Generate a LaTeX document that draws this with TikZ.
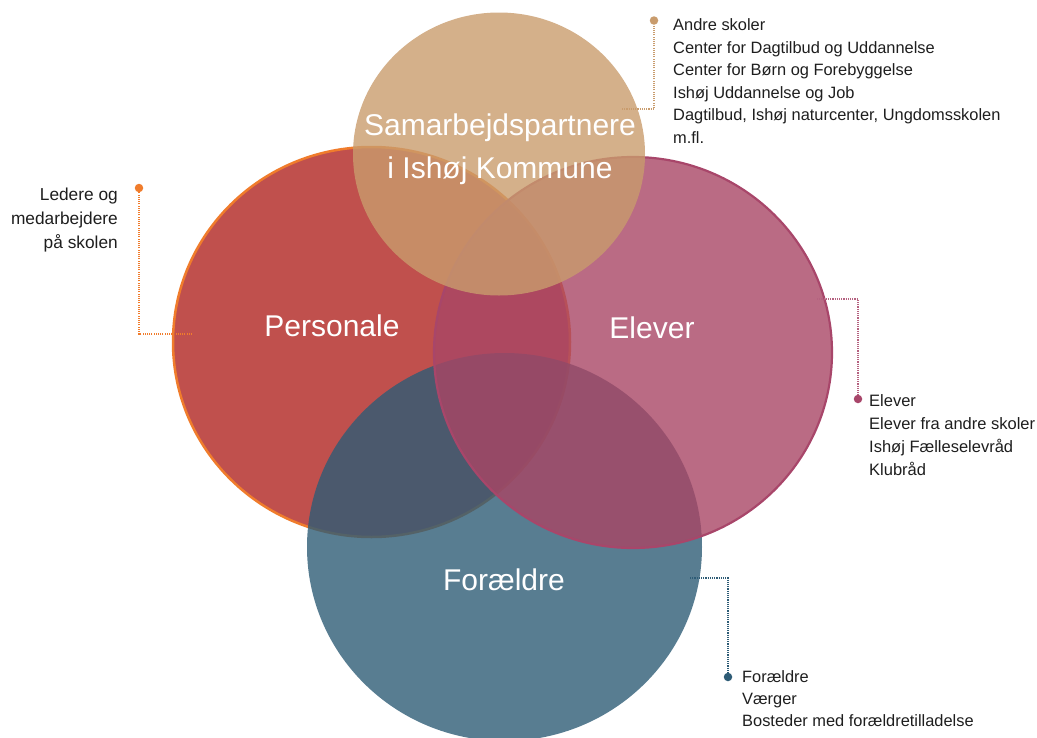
\documentclass[tikz,border=0pt]{standalone}
\usepackage{fontspec}
\setmainfont{Liberation Sans}
\usetikzlibrary{shapes.geometric}
\definecolor{pRed}{RGB}{192,80,77}
\definecolor{pOrange}{RGB}{240,124,44}
\definecolor{eFill}{RGB}{169,70,101}
\definecolor{eLine}{RGB}{168,70,106}
\definecolor{fFill}{RGB}{46,92,118}
\definecolor{sFill}{RGB}{201,156,109}
\definecolor{txt}{RGB}{30,30,30}
\begin{document}
\begin{tikzpicture}[x=1pt,y=-1pt,
  bubble/.style={ellipse, inner sep=0pt, outer sep=0pt},
  biglabel/.style={text=white, inner sep=0pt, align=center, font=\fontsize{30}{43}\selectfont},
  calltext/.style={text=txt, inner sep=0pt},
  pindot/.style={circle, inner sep=0pt, minimum size=8.5pt},
  leader/.style={line width=1.2pt, dash pattern=on 1.1pt off 1.1pt}
]
\useasboundingbox (0,0) rectangle (1037,737);
\clip (0,0) rectangle (1037,737);
% bubbles
\node[bubble, minimum width=397pt, minimum height=390pt, fill=pRed, draw=pOrange, line width=2.5pt] (P) at (371.5,342) {};
\node[bubble, minimum width=395pt, minimum height=388pt, fill=fFill, fill opacity=0.8] (F) at (504.5,547) {};
\node[bubble, minimum width=398pt, minimum height=391pt, fill=eFill, fill opacity=0.8, draw=eLine, line width=2.2pt] (E) at (633,352.5) {};
\node[bubble, minimum width=292pt, minimum height=283pt, fill=sFill, fill opacity=0.8] (S) at (499,154) {};
% labels
\node[biglabel, anchor=base] (Slab) at (500,178) {Samarbejdspartnere\\i Ishøj Kommune};
\node[biglabel, anchor=base] (Plab) at (332,336) {Personale};
\node[biglabel, anchor=base] (Elab) at (652,338) {Elever};
\node[biglabel, anchor=base] (Flab) at (504,590) {Forældre};
% callout dots
\node[pindot, fill=sFill] (dS) at (654,20.5) {};
\node[pindot, fill=pOrange] (dP) at (139,188) {};
\node[pindot, fill=eLine] (dE) at (858,399) {};
\node[pindot, fill=fFill] (dF) at (728,677) {};
% leader starts
\coordinate (pS) at (622,109);
\coordinate (pP) at (192,334);
\coordinate (pE) at (817,299);
\coordinate (pF) at (690,578);
\draw[leader, draw=sFill] (pS) -| (dS);
\draw[leader, draw=pOrange] (pP) -| (dP);
\draw[leader, draw=eLine!85] (pE) -| (dE);
\draw[leader, draw=fFill] (pF) -| (dF);
% callout texts (anchored at the baseline of the last line)
\node[calltext, anchor=base west, align=left, font=\fontsize{16.4}{22.6}\selectfont] (tS) at (673,143.5)
  {Andre skoler\\Center for Dagtilbud og Uddannelse\\Center for Børn og Forebyggelse\\Ishøj Uddannelse og Job\\Dagtilbud, Ishøj naturcenter, Ungdomsskolen\\m.fl.};
\node[calltext, anchor=base east, align=right, font=\fontsize{17.3}{24.2}\selectfont] (tP) at (118,248.4)
  {Ledere og\\medarbejdere\\på skolen};
\node[calltext, anchor=base west, align=left, font=\fontsize{16.5}{22.8}\selectfont] (tE) at (869,475.1)
  {Elever\\Elever fra andre skoler\\Ishøj Fælleselevråd\\Klubråd};
\node[calltext, anchor=base west, align=left, font=\fontsize{16.4}{22}\selectfont] (tF) at (742,726.7)
  {Forældre\\Værger\\Bosteder med forældretilladelse};
\end{tikzpicture}
\end{document}
